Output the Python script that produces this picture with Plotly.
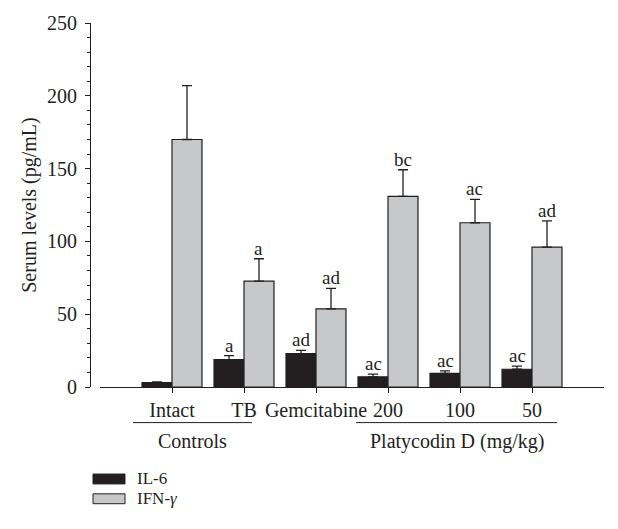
import plotly.graph_objects as go

categories = ["Intact", "TB", "Gemcitabine", "200", "100", "50"]
il6 = [3.0, 18.8, 22.9, 7.0, 9.3, 12.2]
il6_err = [0.5, 2.7, 2.2, 1.8, 1.8, 2.1]
ifn = [170.0, 72.7, 53.7, 130.9, 112.8, 96.0]
ifn_err = [37.0, 15.4, 14.0, 18.3, 16.1, 18.1]
il6_letters = ["", "a", "ad", "ac", "ac", "ac"]
ifn_letters = ["", "a", "ad", "bc", "ac", "ad"]
y_ticks = [0, 50, 100, 150, 200, 250]

INK = "#231f20"
GRAY = "#c7c8ca"
FONT = "Liberation Serif"
FS = 20

W, H = 618, 529
ML, MR, MT, MB = 90, 14, 19, 142
PW = W - ML - MR
PH = H - MT - MB


def px(xp):
    return (xp - ML) / PW


def py(yp):
    return (H - MB - yp) / PH


fig = go.Figure()
fig.add_trace(go.Bar(
    x=categories, y=il6, name="IL-6",
    marker=dict(color=INK, line=dict(color=INK, width=1.2)),
    error_y=dict(type="data", array=il6_err, symmetric=False,
                 arrayminus=[0] * len(il6), color=INK, thickness=1.3, width=5),
))
fig.add_trace(go.Bar(
    x=categories, y=ifn, name="IFN-γ",
    marker=dict(color=GRAY, line=dict(color=INK, width=1.2)),
    error_y=dict(type="data", array=ifn_err, symmetric=False,
                 arrayminus=[0] * len(ifn), color=INK, thickness=1.3, width=5),
))

off = (1 - 0.167) / 4
for i, (v, e, t) in enumerate(zip(il6, il6_err, il6_letters)):
    if t:
        fig.add_annotation(x=i - off, y=v + e, text=t, showarrow=False,
                           xanchor="center", yanchor="bottom", yshift=-2,
                           font=dict(family=FONT, size=19, color=INK))
for i, (v, e, t) in enumerate(zip(ifn, ifn_err, ifn_letters)):
    if t:
        fig.add_annotation(x=i + off, y=v + e, text=t, showarrow=False,
                           xanchor="center", yanchor="bottom", yshift=-2,
                           font=dict(family=FONT, size=19, color=INK))

# group labels
for x0, x1, label in [(133, 252, "Controls"), (356, 557, "Platycodin D (mg/kg)")]:
    fig.add_shape(type="line", xref="paper", yref="paper",
                  x0=px(x0), x1=px(x1), y0=py(423), y1=py(423),
                  line=dict(color=INK, width=1))
    fig.add_annotation(xref="paper", yref="paper", x=px((x0 + x1) / 2), y=py(442),
                       text=label, showarrow=False, xanchor="center", yanchor="middle",
                       font=dict(family=FONT, size=FS, color=INK))

# legend
for (y0, y1, fill, label) in [(475, 485, INK, "IL-6"), (495, 505, GRAY, "IFN-<i>γ</i>")]:
    fig.add_shape(type="rect", xref="paper", yref="paper",
                  x0=px(93), x1=px(125), y0=py(y1), y1=py(y0),
                  fillcolor=fill, line=dict(color=INK, width=1))
    fig.add_annotation(xref="paper", yref="paper", x=px(135), y=py((y0 + y1) / 2),
                       text=label, showarrow=False, xanchor="left", yanchor="middle",
                       font=dict(family=FONT, size=17, color=INK))

fig.update_layout(
    width=W, height=H,
    margin=dict(l=ML, r=MR, t=MT, b=MB),
    paper_bgcolor="white", plot_bgcolor="white",
    barmode="group", bargap=0.167, bargroupgap=0,
    showlegend=False,
    font=dict(family=FONT, size=FS, color=INK),
    xaxis=dict(
        type="category", domain=[10 / PW, 1], range=[-1, 6],
        showline=True, linecolor=INK, linewidth=1,
        ticks="outside", ticklen=5, tickcolor=INK, tickwidth=1,
        showgrid=False, zeroline=False,
        tickfont=dict(family=FONT, size=FS, color=INK),
    ),
    yaxis=dict(
        range=[0, 250], anchor="free", position=0,
        tickvals=y_ticks,
        showline=True, linecolor=INK, linewidth=1,
        ticks="outside", ticklen=5, tickcolor=INK, tickwidth=1,
        ticklabelstandoff=4,
        minor=dict(dtick=10, ticks="outside", ticklen=3, tickcolor=INK, tickwidth=1),
        showgrid=False, zeroline=False,
        tickfont=dict(family=FONT, size=FS, color=INK),
        title=dict(text="Serum levels (pg/mL)", standoff=4,
                   font=dict(family=FONT, size=20, color=INK)),
    ),
)

fig.write_html("out.html", config={"displayModeBar": False},
               post_script="document.body.style.margin='0';")
